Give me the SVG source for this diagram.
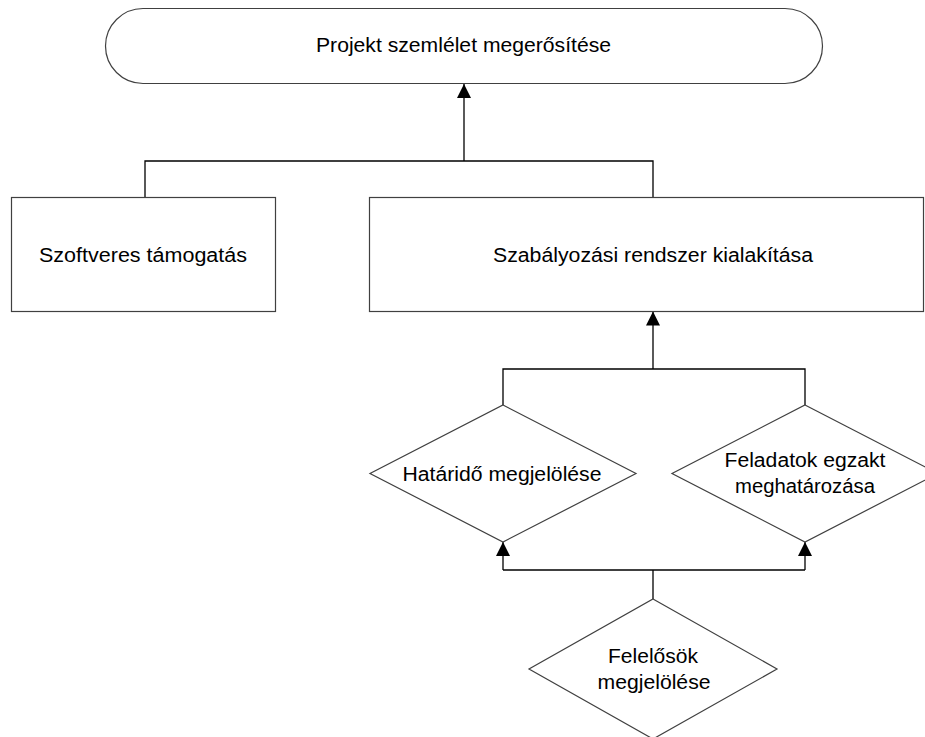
<svg xmlns="http://www.w3.org/2000/svg" width="925" height="737" viewBox="0 0 925 737">
<style>
  .shape { fill: #ffffff; stroke: #404040; stroke-width: 1.2; }
  .conn { fill: none; stroke: #000000; stroke-width: 1.3; }
  .lbl { font-family: "Liberation Sans", Arial, sans-serif; font-size: 19.5px; fill: #000000; text-anchor: middle; }
</style>
<defs>
  <marker id="arrow" markerUnits="userSpaceOnUse" markerWidth="14" markerHeight="14" refX="14" refY="7" orient="auto">
    <path d="M0,0 L14,7 L0,14 z" fill="#000000"/>
  </marker>
</defs>
<rect width="925" height="737" fill="#ffffff"/>
<g id="connectors">
  <path class="conn" d="M145 197.5 V161 H653 V197.5"/>
  <path class="conn" d="M464 161 V84" marker-end="url(#arrow)"/>
  <path class="conn" d="M503 405 V369 H805 V405"/>
  <path class="conn" d="M653 369 V311.5" marker-end="url(#arrow)"/>
  <path class="conn" d="M653 599 V570"/>
  <path class="conn" d="M503 570 H805"/>
  <path class="conn" d="M503 570 V542" marker-end="url(#arrow)"/>
  <path class="conn" d="M805 570 V542" marker-end="url(#arrow)"/>
</g>
<g id="node-projekt">
  <rect class="shape" x="105.5" y="8.5" width="717" height="75" rx="37.5" ry="37.5"/>
  <text class="lbl" x="463.5" y="51.7" textLength="295" lengthAdjust="spacingAndGlyphs">Projekt szemlélet megerősítése</text>
</g>
<g id="node-szoftveres">
  <rect class="shape" x="11.5" y="197.5" width="264" height="114"/>
  <text class="lbl" x="143" y="262" textLength="208" lengthAdjust="spacingAndGlyphs">Szoftveres támogatás</text>
</g>
<g id="node-szabalyozasi">
  <rect class="shape" x="369.5" y="197.5" width="554" height="114"/>
  <text class="lbl" x="653" y="262" textLength="320" lengthAdjust="spacingAndGlyphs">Szabályozási rendszer kialakítása</text>
</g>
<g id="node-hatarido">
  <polygon class="shape" points="503,405 636,473.5 503,542 370,473.5"/>
  <text class="lbl" x="502" y="480.5" textLength="199" lengthAdjust="spacingAndGlyphs">Határidő megjelölése</text>
</g>
<g id="node-feladatok">
  <polygon class="shape" points="805,405 938,473.5 805,542 672,473.5"/>
  <text class="lbl" x="805" y="467" textLength="161" lengthAdjust="spacingAndGlyphs">Feladatok egzakt</text>
  <text class="lbl" x="805" y="493" textLength="140" lengthAdjust="spacingAndGlyphs">meghatározása</text>
</g>
<g id="node-felelosok">
  <polygon class="shape" points="653,599 777,669 653,739 529,669"/>
  <text class="lbl" x="653" y="663" textLength="90" lengthAdjust="spacingAndGlyphs">Felelősök</text>
  <text class="lbl" x="654" y="689" textLength="113" lengthAdjust="spacingAndGlyphs">megjelölése</text>
</g>
</svg>
